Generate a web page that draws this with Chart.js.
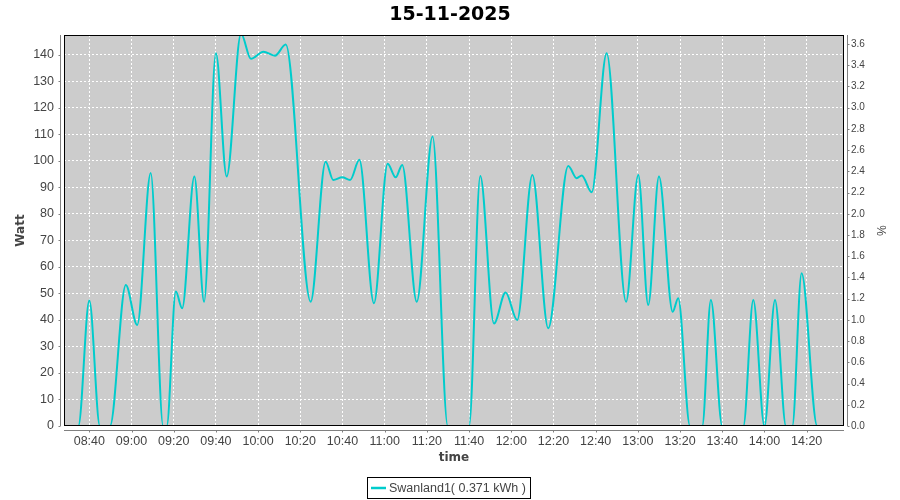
<!DOCTYPE html>
<html>
<head>
<meta charset="utf-8">
<title>15-11-2025</title>
<script src="https://cdn.jsdelivr.net/npm/chart.js@4.4.1/dist/chart.umd.min.js"></script>
<style>
  html, body { margin: 0; padding: 0; background: #fff; }
  #chart { display: block; }
</style>
</head>
<body>
<canvas id="chart" width="900" height="500"></canvas>
<script>
// ===== data =====
const chartTitle = '15-11-2025';
const seriesLabel = 'Swanland1( 0.371 kWh )';

// sample times (clock) and power in Watt
const times = [
  '08:30:00', '08:34:48', '08:40:00', '08:45:00', '08:49:48', '08:57:18',
  '09:02:42', '09:09:06', '09:15:00', '09:16:42', '09:21:00', '09:24:00',
  '09:29:48', '09:34:24', '09:40:00', '09:45:06', '09:51:54', '09:56:36',
  '10:02:30', '10:08:00', '10:13:06', '10:24:54', '10:32:00', '10:35:36',
  '10:39:54', '10:43:36', '10:48:00', '10:54:54', '11:01:24', '11:05:12',
  '11:08:18', '11:15:12', '11:22:42', '11:29:54', '11:40:00', '11:45:18',
  '11:51:48', '11:57:18', '12:02:48', '12:10:00', '12:17:30', '12:27:00',
  '12:31:00', '12:33:24', '12:38:06', '12:45:12', '12:54:24', '13:00:12',
  '13:04:54', '13:10:00', '13:16:30', '13:19:06', '13:24:42', '13:30:30',
  '13:34:36', '13:40:00', '13:50:00', '13:54:42', '14:00:00', '14:05:00',
  '14:10:12', '14:13:12', '14:17:36', '14:25:00', '14:37:00'
];
const watts = [
  0, 0, 47.3, 0, 0, 53.2,
  38.1, 95.4, 0, 0, 50.7, 44.4,
  94.1, 46.9, 140.6, 94.1, 148, 138.5,
  141.2, 139.7, 143.9, 46.9, 99.7, 92.8,
  93.8, 92.8, 100.4, 46.3, 98.9, 93.8,
  98.5, 46.9, 109.2, 0, 0, 94.3,
  38.7, 50.4, 40, 94.7, 36.9, 98.1,
  93.5, 94.5, 88.2, 140.6, 46.9, 94.7,
  45.7, 94.1, 43.1, 48.2, 0, 0,
  47.5, 0, 0, 47.5, 0, 47.5,
  0, 0, 57.6, 0, 0
];

// axes
const xRange = ['08:28', '14:37:42'];
const xTickLabels = ['08:40', '09:00', '09:20', '09:40', '10:00', '10:20', '10:40', '11:00', '11:20',
                     '11:40', '12:00', '12:20', '12:40', '13:00', '13:20', '13:40', '14:00', '14:20'];
const wattMax = 147.5;
const wattTicks = [0, 10, 20, 30, 40, 50, 60, 70, 80, 90, 100, 110, 120, 130, 140];
const pctMax = 3.685;
const pctTicks = ['0.0', '0.2', '0.4', '0.6', '0.8', '1.0', '1.2', '1.4', '1.6', '1.8',
                  '2.0', '2.2', '2.4', '2.6', '2.8', '3.0', '3.2', '3.4', '3.6'];

// ===== helpers =====
function toMinutes(s) {
  const p = s.split(':').map(Number);
  return p[0] * 60 + p[1] + (p[2] || 0) / 60;
}
function fmtClock(m) {
  const h = Math.floor(m / 60);
  const mm = Math.round(m - h * 60);
  return String(h).padStart(2, '0') + ':' + String(mm).padStart(2, '0');
}

const TEAL = '#00CCCC';
const TEXT = '#444444';
const FONT = "'Liberation Sans', Arial, sans-serif";
const LABEL_FONT = "'DejaVu Sans', sans-serif";

// plot background, border, offset axis lines, boxed legend
const frame = {
  id: 'frame',
  beforeDraw(chart) {
    const { ctx, chartArea: a } = chart;
    ctx.save();
    ctx.fillStyle = '#fff';
    ctx.fillRect(0, 0, chart.width, chart.height);
    ctx.fillStyle = '#CCCCCC';
    ctx.fillRect(a.left, a.top, a.right - a.left, a.bottom - a.top);
    ctx.restore();
  },
  afterDatasetsDraw(chart) {
    const { ctx, chartArea: a, scales } = chart;
    ctx.save();
    ctx.lineWidth = 1;
    ctx.strokeStyle = '#000';
    ctx.strokeRect(a.left + 0.5, a.top + 0.5, a.right - a.left - 1, a.bottom - a.top - 1);

    ctx.strokeStyle = '#808080';
    ctx.beginPath();
    // left axis
    const lx = a.left - 3.5;
    ctx.moveTo(lx, a.top); ctx.lineTo(lx, a.bottom);
    for (const t of scales.y.ticks) {
      const y = Math.round(scales.y.getPixelForValue(t.value)) + 0.5;
      ctx.moveTo(lx - 2, y); ctx.lineTo(lx, y);
    }
    // right axis
    const rx = a.right + 3.5;
    ctx.moveTo(rx, a.top); ctx.lineTo(rx, a.bottom);
    for (const t of scales.y2.ticks) {
      const y = Math.round(scales.y2.getPixelForValue(t.value)) + 0.5;
      ctx.moveTo(rx, y); ctx.lineTo(rx + 2, y);
    }
    // bottom axis
    const by = a.bottom + 4.5;
    ctx.moveTo(a.left, by); ctx.lineTo(a.right, by);
    for (const t of scales.x.ticks) {
      const x = Math.round(scales.x.getPixelForValue(t.value)) + 0.5;
      ctx.moveTo(x, by); ctx.lineTo(x, by + 2);
    }
    ctx.stroke();
    ctx.restore();
  },
  afterDraw(chart) {
    const { ctx } = chart;
    const label = chart.data.datasets[0].label;
    ctx.save();
    ctx.font = '12.5px ' + FONT;
    const tw = ctx.measureText(label).width;
    const w = Math.round(22 + tw + 4);
    const x0 = Math.round(448.5 - w / 2);
    const y0 = 477;
    ctx.strokeStyle = '#000';
    ctx.lineWidth = 1;
    ctx.strokeRect(x0 + 0.5, y0 + 0.5, w, 21);
    ctx.strokeStyle = TEAL;
    ctx.lineWidth = 2.5;
    ctx.beginPath();
    ctx.moveTo(x0 + 4, y0 + 11); ctx.lineTo(x0 + 19, y0 + 11);
    ctx.stroke();
    ctx.fillStyle = TEXT;
    ctx.textBaseline = 'middle';
    ctx.fillText(label, x0 + 22, y0 + 11.5);
    ctx.restore();
  }
};

const points = times.map((t, i) => ({ x: toMinutes(t), y: watts[i] }));

new Chart(document.getElementById('chart'), {
  type: 'line',
  data: {
    datasets: [{
      label: seriesLabel,
      data: points,
      borderColor: TEAL,
      backgroundColor: TEAL,
      borderWidth: 2,
      pointRadius: 0,
      cubicInterpolationMode: 'monotone',
      yAxisID: 'y'
    }]
  },
  options: {
    responsive: false,
    animation: false,
    devicePixelRatio: 1,
    layout: { padding: { left: 0, right: 0, top: 0, bottom: 30 } },
    plugins: {
      legend: { display: false },
      tooltip: { enabled: false },
      title: {
        display: true,
        text: chartTitle,
        color: '#000',
        font: { family: LABEL_FONT, size: 19, weight: 'bold' },
        padding: { top: 3.5, bottom: 8.7 }
      }
    },
    scales: {
      x: {
        type: 'linear',
        min: toMinutes(xRange[0]),
        max: toMinutes(xRange[1]),
        afterBuildTicks: s => { s.ticks = xTickLabels.map(l => ({ value: toMinutes(l) })); },
        afterFit: s => { s.height = 44; },
        grid: { color: '#fff', lineWidth: 1, drawTicks: false },
        border: { display: false, dash: [2, 2] },
        ticks: {
          autoSkip: false, maxRotation: 0, padding: 8, color: TEXT,
          font: { family: FONT, size: 12.5 },
          callback: v => fmtClock(v)
        },
        title: {
          display: true, text: 'time', color: TEXT,
          font: { family: LABEL_FONT, size: 12, weight: 'bold' },
          padding: { top: 0, bottom: 4.8 }
        }
      },
      y: {
        position: 'left',
        min: 0,
        max: wattMax,
        afterBuildTicks: s => { s.ticks = wattTicks.map(v => ({ value: v })); },
        afterFit: s => { s.width = 64; },
        grid: { color: '#fff', lineWidth: 1, drawTicks: false },
        border: { display: false, dash: [2, 2] },
        ticks: { padding: 10, color: TEXT, font: { family: FONT, size: 12.5 } },
        title: {
          display: true, text: 'Watt', color: TEXT,
          font: { family: LABEL_FONT, size: 12, weight: 'bold' },
          padding: { top: 13.5, bottom: 0 }
        }
      },
      y2: {
        position: 'right',
        min: 0,
        max: pctMax,
        afterBuildTicks: s => { s.ticks = pctTicks.map(l => ({ value: Number(l) })); },
        afterFit: s => { s.width = 56; },
        grid: { display: false, drawTicks: false },
        border: { display: false },
        ticks: {
          padding: 7, color: TEXT,
          font: { family: FONT, size: 10 },
          callback: v => Number(v).toFixed(1)
        },
        title: {
          display: true, text: '%', color: TEXT,
          font: { family: FONT, size: 12 },
          padding: { top: 12.8, bottom: 0 }
        }
      }
    }
  },
  plugins: [frame]
});
</script>
</body>
</html>
